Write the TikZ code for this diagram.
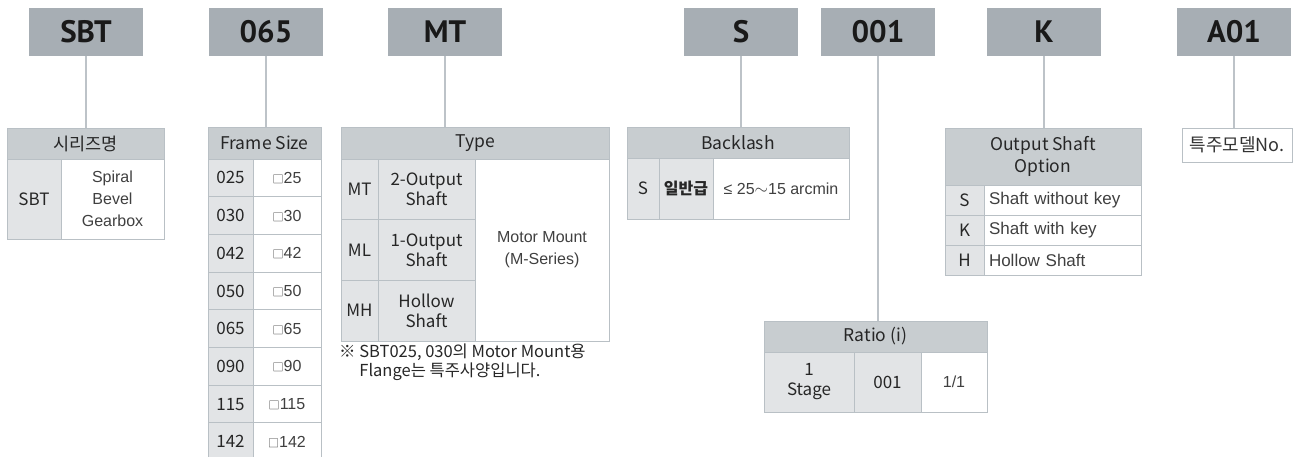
\documentclass[tikz,border=0pt]{standalone}
\usepackage{fontspec}
\setmainfont{Noto Sans CJK KR}
\newfontfamily\thin{Liberation Sans}
\newfontfamily\din{PT Sans}
\usetikzlibrary{positioning}
\definecolor{codegray}{HTML}{A7AEB4}
\definecolor{headgray}{HTML}{C8CDD0}
\definecolor{keygray}{HTML}{E2E4E6}
\definecolor{rulegray}{HTML}{B9C0C5}
\definecolor{linkgray}{HTML}{BDC3C8}
\newcommand{\sqmark}{{\rmfamily\fontsize{11}{11}\selectfont □}}
\tikzset{
  wh/.style 2 args={minimum width=#1pt,minimum height=#2pt},
  codebox/.style={fill=codegray,wh={114}{48},inner sep=0pt,
    font=\din\bfseries\fontsize{31}{31}\selectfont,text=black!90},
  headcell/.style={draw=rulegray,fill=headgray,line width=1pt,inner sep=0pt,
    font=\fontsize{17.5}{22}\selectfont,text=black!85,align=center},
  keycell/.style={draw=rulegray,fill=keygray,line width=1pt,inner sep=0pt,
    font=\fontsize{17}{20}\selectfont,text=black!85,align=center},
  valcell/.style={draw=rulegray,fill=white,line width=1pt,inner sep=0pt,
    font=\thin\fontsize{16}{22}\selectfont,text=black!75,align=center},
  link/.style={draw=linkgray,line width=1.5pt},
}
\begin{document}
\begin{tikzpicture}[x=1pt,y=-1pt]
\useasboundingbox (0,0) rectangle (1297,456);
% code boxes
\node[codebox] (sbt) at (86,32)   {SBT};
\node[codebox] (fr)  at (266,32)  {065};
\node[codebox] (mt)  at (445,32)  {MT};
\node[codebox] (bl)  at (741,32)  {S};
\node[codebox] (rt)  at (878,32)  {001};
\node[codebox] (op)  at (1044,32) {K};
\node[codebox] (sp)  at (1234,32) {A01};

% series
\node[headcell,wh={157}{31}] (serieshd) at (85.5,143.5) {시리즈명};
\node[keycell,wh={54}{80}]   (seriesk)  at (34,199)     {SBT};
\node[valcell,wh={103}{80}]  (seriesv)  at (112.5,199)  {Spiral\\Bevel\\Gearbox};

% frame size
\node[headcell,wh={113}{32}] (framehd) at (264.5,143) {Frame Size};
\foreach \c [count=\r] in {025,030,042,050,065,090,115,142} {
  \node[keycell,wh={45}{37.7}] (fk\r) at (230.5,{159+37.7*(\r-0.5)}) {\c};
  \node[valcell,wh={68}{37.7}] (fv\r) at (287,{159+37.7*(\r-0.5)})
    {\sqmark\number\c};
}

% type
\node[headcell,wh={268}{32}] (typehd) at (475,143) {Type};
\foreach \c/\d [count=\r] in {MT/2-Output,ML/1-Output,MH/Hollow} {
  \node[keycell,wh={37}{60.67}] (tk\r) at (359.5,{159+60.67*(\r-0.5)}) {\c};
  \node[keycell,wh={97}{60.67}] (td\r) at (426.5,{159+60.67*(\r-0.5)}) {\d\\Shaft};
}
\node[valcell,wh={134}{182}] (typev) at (542,250) {Motor Mount\\(M-Series)};
\node[anchor=north west,align=left,inner sep=0pt,text=black!85,
  font=\fontsize{16.5}{19}\selectfont] (typenote) at (339,344)
  {※ SBT025, 030의 Motor Mount용\\\hphantom{※ }Flange는 특주사양입니다.};

% backlash
\node[headcell,wh={222}{31}] (blhd) at (738,142.5) {Backlash};
\node[keycell,wh={32}{61}]   (blk)  at (643,188.5) {S};
\node[keycell,wh={54}{61},font=\bfseries\fontsize{16}{20}\selectfont] (blc) at (686,188.5) {일반급};
\node[valcell,wh={136}{61}]  (blv)  at (781,188.5) {≤ 25$\sim$15 arcmin};

% ratio
\node[headcell,wh={223}{31}] (rthd) at (875.5,336.5) {Ratio (i)};
\node[keycell,wh={90}{60}]   (rtk)  at (809,382)    {1\\Stage};
\node[keycell,wh={67}{60}]   (rtc)  at (887.5,382)  {001};
\node[valcell,wh={66}{60}]   (rtv)  at (954,382)    {1/1};

% output shaft option
\node[headcell,wh={196}{57}] (ophd) at (1043,156.5) {Output Shaft\\Option};
\foreach \c/\d [count=\r] in {S/Shaft without key,K/Shaft with key,H/Hollow Shaft} {
  \node[keycell,wh={39}{30},font=\fontsize{17}{20}\selectfont] (ok\r) at (964.5,{185+30*(\r-0.5)}) {\c};
  \node[valcell,wh={157}{30},text width=147pt,align=left,
    font=\thin\fontsize{17}{20}\selectfont] (ov\r) at (1062.5,{185+30*(\r-0.5)}) {\d};
}

% special model
\node[valcell,wh={110}{34},font=\fontsize{18}{20}\selectfont,text=black!80] (spbox) at (1237,145) {특주모델No.};

% links
\draw[link] (sbt.south) -- (sbt.south |- serieshd.north);
\draw[link] (fr.south)  -- (fr.south |- framehd.north);
\draw[link] (mt.south)  -- (mt.south |- typehd.north);
\draw[link] (bl.south)  -- (bl.south |- blhd.north);
\draw[link] (rt.south)  -- (rt.south |- rthd.north);
\draw[link] (op.south)  -- (op.south |- ophd.north);
\draw[link] (sp.south)  -- (sp.south |- spbox.north);
\end{tikzpicture}
\end{document}
